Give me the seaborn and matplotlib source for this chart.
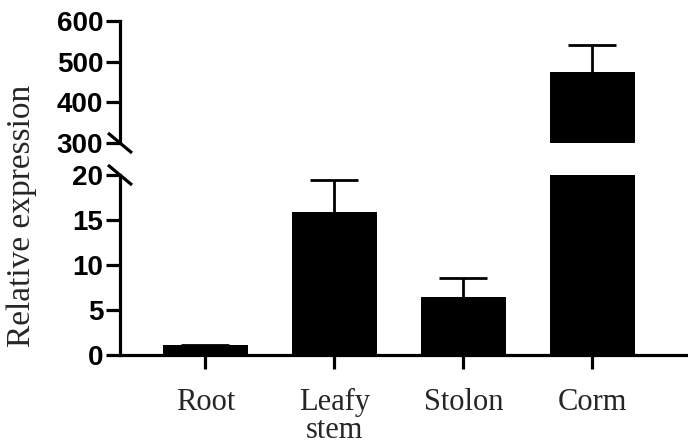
import matplotlib
matplotlib.use("Agg")
import matplotlib.pyplot as plt
import seaborn as sns
import pandas as pd

# Expression data per tissue
categories = ["Root", "Leafy\nstem", "Stolon", "Corm"]
expression = [1.1, 15.9, 6.4, 475.0]
error_up = [0.0, 3.5, 2.2, 65.0]

top_ticks = [300, 400, 500, 600]
bottom_ticks = [0, 5, 10, 15, 20]

df = pd.DataFrame({"tissue": categories, "expr": expression})

sns.set_theme(style="white")
plt.rcParams["font.family"] = ["Liberation Sans", "DejaVu Sans"]

fig = plt.figure(figsize=(6.88, 4.45), dpi=100)
W = 1 - 0.1744
ax_top = fig.add_axes([0.1744, 0.6787, W, 0.2742])
ax_bot = fig.add_axes([0.1744, 0.2022, W, 0.4045])

lw = 2.3
for ax, lim, ticks in ((ax_top, (300, 600), top_ticks), (ax_bot, (0, 20), bottom_ticks)):
    sns.barplot(data=df, x="tissue", y="expr", color="black", width=0.66,
                errorbar=None, ax=ax, saturation=1, edgecolor="black",
                linewidth=0)
    _, caps, _ = ax.errorbar(range(len(categories)), expression,
                             yerr=[[0] * len(error_up), error_up], fmt="none",
                             ecolor="black", elinewidth=2.0, capsize=17,
                             capthick=2.0, zorder=3)
    # only the upper whisker carries a cap
    caps[0].set_visible(False)
    ax.set_ylim(*lim)
    ax.set_xlim(-0.66, 3.74)
    ax.set_yticks(ticks)
    ax.set_yticklabels([str(t) for t in ticks], fontsize=20, fontweight="bold",
                       family=["Liberation Sans", "DejaVu Sans"])
    ax.set_xlabel("")
    ax.set_ylabel("")
    for s in ("top", "right"):
        ax.spines[s].set_visible(False)
    ax.spines["left"].set_linewidth(lw)
    ax.spines["left"].set_color("black")
    ax.spines["bottom"].set_linewidth(lw)
    ax.spines["bottom"].set_color("black")
    ax.tick_params(axis="y", length=10, width=lw, color="black", pad=2,
                   left=True, labelcolor="black")
    ax.set_facecolor("white")

ax_top.spines["bottom"].set_visible(False)
ax_top.tick_params(axis="x", bottom=False, labelbottom=False)

ax_bot.tick_params(axis="x", length=10, width=lw, color="black", bottom=True,
                   pad=14)
ax_bot.set_xticks(range(len(categories)))
ax_bot.set_xticklabels(categories, fontsize=22, linespacing=0.95,
                       family=["Liberation Serif", "DejaVu Serif"],
                       verticalalignment="top")

# Break marks on the y axis
fig_w, fig_h = 688, 445
def break_mark(ax, y_frac):
    bb = ax.get_position()
    x0 = bb.x0
    y0 = bb.y0 + y_frac * bb.height
    dx = 12 / fig_w
    dy = 10 / fig_h
    fig.add_artist(plt.Line2D([x0 - dx, x0 + dx], [y0 + dy, y0 - dy],
                              color="black", lw=lw, solid_capstyle="butt"))

break_mark(ax_top, 0.0)
break_mark(ax_bot, 1.0)

fig.text(0.032, 0.515, "Relative expression", rotation=90, ha="center",
         va="center", fontsize=24, family=["Liberation Serif", "DejaVu Serif"])

fig.savefig("out.png", dpi=100, facecolor="white")
